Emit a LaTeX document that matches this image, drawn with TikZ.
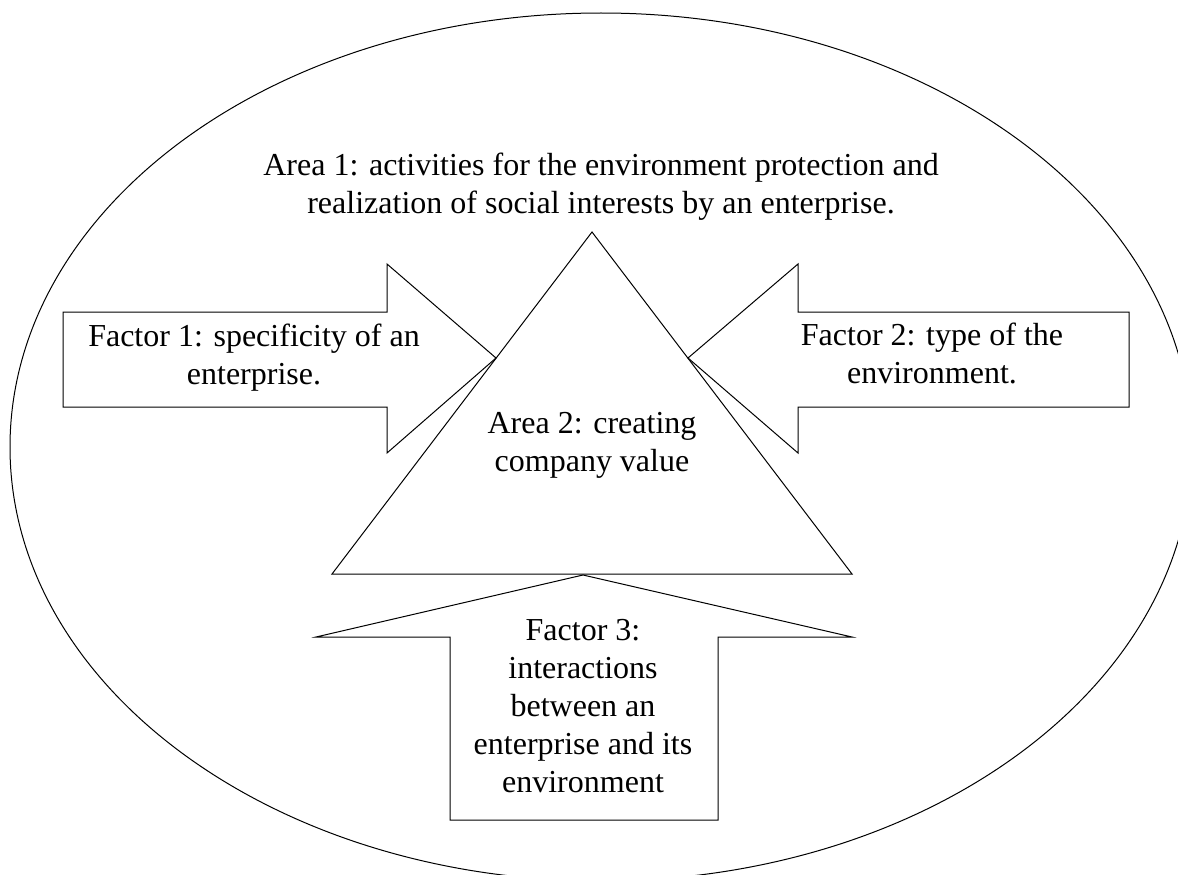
\documentclass[tikz,border=0pt]{standalone}
\usepackage{fontspec}
\setmainfont{Liberation Serif}
\begin{document}
\begin{tikzpicture}[x=1pt,y=-1pt,
  outline/.style={draw=black, line width=1pt, fill=white, line join=miter},
  lbl/.style={align=center, inner sep=0pt, font=\fontsize{32}{38}\selectfont}]
\clip (0,0) rectangle (1178,875);
\fill[white] (0,0) rectangle (1178,875);
% outer ellipse
\draw[line width=1pt] (601,447) ellipse [x radius=591pt, y radius=434pt];
% central triangle
\draw[outline] (592,232) -- (332,574) -- (852,574) -- cycle;
% left arrow (Factor 1)
\draw[outline] (63,312) -- (387,312) -- (387,264) -- (496,358) -- (387,453) -- (387,407) -- (63,407) -- cycle;
% right arrow (Factor 2)
\draw[outline] (1129,312) -- (798,312) -- (798,264) -- (688,358) -- (798,453) -- (798,407) -- (1129,407) -- cycle;
% up arrow (Factor 3)
\draw[outline] (450,820) -- (450,637) -- (316,637) -- (583,575) -- (852,637) -- (718,637) -- (718,820) -- cycle;
% texts
\node[lbl] (area1) at (601,186.4) {\strut Area 1: activities for the environment protection and\\\strut realization of social interests by an enterprise.};
\node[lbl] (factor1) at (254,357.4) {\strut Factor 1: specificity of an\\\strut enterprise.};
\node[lbl] (factor2) at (932,356.4) {\strut Factor 2: type of the\\\strut environment.};
\node[lbl] (area2) at (592,444.4) {\strut Area 2: creating\\\strut company value};
\node[lbl] (factor3) at (583,708.4) {\strut Factor 3:\\\strut interactions\\\strut between an\\\strut enterprise and its\\\strut environment};
\end{tikzpicture}
\end{document}
